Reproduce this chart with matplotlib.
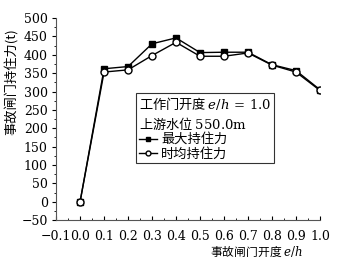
import matplotlib
matplotlib.use("Agg")
import matplotlib.pyplot as plt
from matplotlib.ticker import MultipleLocator

plt.rcParams['font.family'] = ['DejaVu Serif', 'Noto Sans CJK SC']
plt.rcParams['mathtext.fontset'] = 'dejavuserif'
CJK = 'Noto Sans CJK SC'

opening = [0.0, 0.1, 0.2, 0.3, 0.4, 0.5, 0.6, 0.7, 0.8, 0.9, 1.0]
max_force = [0, 362, 368, 430, 446, 406, 407, 407, 373, 357, 305]
mean_force = [0, 353, 359, 398, 434, 396, 396, 405, 372, 353, 303]
xtick_labels = ['−0.1', '0.0', '0.1', '0.2', '0.3', '0.4', '0.5',
                '0.6', '0.7', '0.8', '0.9', '1.0']

fig = plt.figure(figsize=(3.4, 2.58), dpi=100)
ax = fig.add_axes([0.165, 0.147, 0.776, 0.783])

ax.plot(opening, max_force, color='black', lw=1.0, marker='s', ms=4,
        mfc='black', mec='black', label='最大持住力')
ax.plot(opening, mean_force, color='black', lw=1.0, marker='o', ms=5,
        mfc='white', mec='black', mew=1.0, label='时均持住力')

ax.set_xlim(-0.1, 1.0)
ax.set_ylim(-50, 500)
ax.set_xticks([round(-0.1 + 0.1 * i, 1) for i in range(12)])
ax.set_xticklabels(xtick_labels)
ax.xaxis.set_minor_locator(MultipleLocator(0.05))
ax.yaxis.set_major_locator(MultipleLocator(50))
ax.yaxis.set_minor_locator(MultipleLocator(25))
ax.tick_params(axis='x', which='both', direction='in', labelsize=9, pad=7)
ax.tick_params(axis='x', which='major', length=3)
ax.tick_params(axis='x', which='minor', length=1.5)
ax.tick_params(axis='y', which='both', direction='out', labelsize=9, pad=3)
ax.tick_params(axis='y', which='major', length=3)
ax.tick_params(axis='y', which='minor', length=1.5)
for s in ['top', 'right']:
    ax.spines[s].set_visible(False)
for s in ['left', 'bottom']:
    ax.spines[s].set_linewidth(0.8)
    ax.spines[s].set_color('#555555')

ax.set_ylabel('事故闸门持住力(t)', fontsize=9.5, family=CJK)
ax.yaxis.set_label_coords(-0.14, 0.685)
ax.set_xlabel('事故闸门开度 $e/h$', fontsize=8.5, family=CJK)
ax.xaxis.set_label_coords(0.758, -0.115)

leg = ax.legend(title='工作门开度 $e/h\\mathrm{\\,=\\,1.0}$\n上游水位 $\\mathrm{550.0m}$',
                loc='upper left', bbox_to_anchor=(0.303, 0.629),
                prop={'family': CJK, 'size': 9.5},
                title_fontproperties={'family': CJK, 'size': 9.5},
                alignment='left', frameon=True, fancybox=False,
                edgecolor='black', handlelength=1.4, handletextpad=0.3,
                borderpad=0.2, labelspacing=0.12, borderaxespad=0)
leg.get_frame().set_linewidth(0.8)
for h in leg.legend_handles:
    h.set_markersize(3.5)

fig.savefig('out.png', dpi=100)
